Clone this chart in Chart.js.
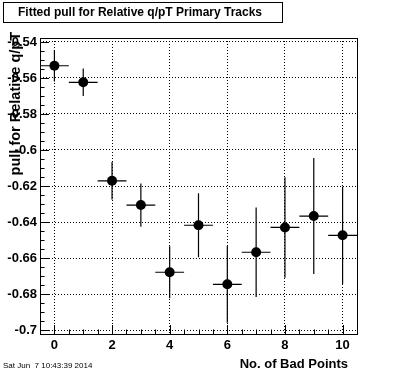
<!DOCTYPE html>
<html>
<head>
<meta charset="utf-8">
<script src="https://cdn.jsdelivr.net/npm/chart.js@4.4.0/dist/chart.umd.min.js"></script>
<style>
  html, body { margin: 0; padding: 0; background: #fff; }
  canvas { display: block; }
</style>
</head>
<body>
<canvas id="c" width="396" height="372"></canvas>
<script>
// data
const nBad = [0, 1, 2, 3, 4, 5, 6, 7, 8, 9, 10];
const nBadErr = [0.5, 0.5, 0.5, 0.5, 0.5, 0.5, 0.5, 0.5, 0.5, 0.5, 0.5];
const pull = [-0.5532, -0.5624, -0.6171, -0.6306, -0.6679, -0.6418, -0.6746, -0.6568, -0.6430, -0.6367, -0.6474];
const pullErr = [0.0088, 0.0076, 0.0104, 0.0120, 0.0145, 0.0178, 0.0214, 0.0248, 0.0279, 0.0322, 0.0270];

const xTicks = [0, 2, 4, 6, 8, 10];
const yTicks = [-0.54, -0.56, -0.58, -0.6, -0.62, -0.64, -0.66, -0.68, -0.7];

const titleText = 'Fitted pull for Relative q/pT Primary Tracks';
const xTitle = 'No. of Bad Points';
const yTitle = 'pull for Relative q/pT';
const dateText = 'Sat Jun  7 10:43:39 2014';

const FONT = '"Liberation Sans", Arial, Helvetica, sans-serif';

// error bars, drawn under the markers
const errorBars = {
  id: 'errorBars',
  beforeDatasetsDraw(chart) {
    const ctx = chart.ctx, xs = chart.scales.x, ys = chart.scales.y;
    ctx.save();
    ctx.strokeStyle = '#000';
    ctx.lineWidth = 1.2;
    for (let i = 0; i < nBad.length; i++) {
      const x = xs.getPixelForValue(nBad[i]);
      const y = ys.getPixelForValue(pull[i]);
      ctx.beginPath();
      ctx.moveTo(xs.getPixelForValue(nBad[i] - nBadErr[i]), y);
      ctx.lineTo(xs.getPixelForValue(nBad[i] + nBadErr[i]), y);
      ctx.moveTo(x, ys.getPixelForValue(pull[i] + pullErr[i]));
      ctx.lineTo(x, ys.getPixelForValue(pull[i] - pullErr[i]));
      ctx.stroke();
    }
    ctx.restore();
  }
};

// frame, inward ticks, titles, date stamp
const decorations = {
  id: 'decorations',
  afterDraw(chart) {
    const ctx = chart.ctx, a = chart.chartArea;
    const xs = chart.scales.x, ys = chart.scales.y;
    ctx.save();
    ctx.strokeStyle = '#000';
    ctx.lineWidth = 1;

    // ticks on the left axis
    ctx.beginPath();
    for (let v = -0.70; v <= -0.5379; v += 0.005) {
      const y = Math.round(ys.getPixelForValue(v)) + 0.5;
      const major = Math.abs(v / 0.02 - Math.round(v / 0.02)) < 0.01;
      ctx.moveTo(a.left, y);
      ctx.lineTo(a.left + (major ? 9 : 4.5), y);
    }
    // ticks on the bottom axis
    for (let v = -0.5; v <= 10.5; v += 0.5) {
      const x = Math.round(xs.getPixelForValue(v)) + 0.5;
      const major = v % 2 === 0;
      ctx.moveTo(x, a.bottom);
      ctx.lineTo(x, a.bottom - (major ? 9 : 4.5));
    }
    ctx.stroke();

    // frame
    ctx.strokeRect(Math.round(a.left) + 0.5, Math.round(a.top) + 0.5,
      Math.round(a.right - a.left), Math.round(a.bottom - a.top));

    // title box
    ctx.strokeRect(3.5, 2.5, 279, 20);
    ctx.fillStyle = '#000';
    ctx.font = 'bold 12px ' + FONT;
    ctx.textAlign = 'center';
    ctx.textBaseline = 'middle';
    ctx.fillText(titleText, 140, 13);

    // x axis title
    ctx.font = 'bold 13px ' + FONT;
    ctx.textAlign = 'right';
    ctx.fillText(xTitle, 348, 364);

    // y axis title
    ctx.save();
    ctx.translate(16, 32);
    ctx.rotate(-Math.PI / 2);
    ctx.font = 'bold 14.5px ' + FONT;
    ctx.textAlign = 'right';
    ctx.fillText(yTitle, 0, 0);
    ctx.restore();

    // date
    ctx.font = '8px ' + FONT;
    ctx.textAlign = 'left';
    ctx.fillText(dateText, 3, 366);
    ctx.restore();
  }
};

new Chart(document.getElementById('c'), {
  type: 'scatter',
  data: {
    datasets: [{
      data: nBad.map((x, i) => ({ x: x, y: pull[i] })),
      backgroundColor: '#000',
      borderColor: '#000',
      pointRadius: 5,
      pointHoverRadius: 5,
      borderWidth: 0
    }]
  },
  options: {
    responsive: false,
    animation: false,
    events: [],
    layout: { padding: { left: 0, top: 38, right: 39, bottom: 0 } },
    plugins: { legend: { display: false }, tooltip: { enabled: false } },
    scales: {
      x: {
        type: 'linear',
        min: -0.5,
        max: 10.5,
        afterBuildTicks: s => { s.ticks = xTicks.map(v => ({ value: v })); },
        afterFit: s => { s.height = 38; },
        grid: { color: '#000', lineWidth: 1, drawTicks: false },
        border: { display: false, dash: [1, 2] },
        ticks: {
          color: '#000',
          padding: 4,
          maxRotation: 0,
          font: { family: FONT, size: 13, weight: 'bold' },
          callback: v => String(v)
        }
      },
      y: {
        type: 'linear',
        min: -0.7022,
        max: -0.5378,
        afterBuildTicks: s => { s.ticks = yTicks.map(v => ({ value: v })); },
        afterFit: s => { s.width = 40; },
        grid: { color: '#000', lineWidth: 1, drawTicks: false },
        border: { display: false, dash: [1, 2] },
        ticks: {
          color: '#000',
          padding: 3,
          font: { family: FONT, size: 13, weight: 'bold' },
          callback: v => String(Number(v.toFixed(2)))
        }
      }
    }
  },
  plugins: [errorBars, decorations]
});
</script>
</body>
</html>
